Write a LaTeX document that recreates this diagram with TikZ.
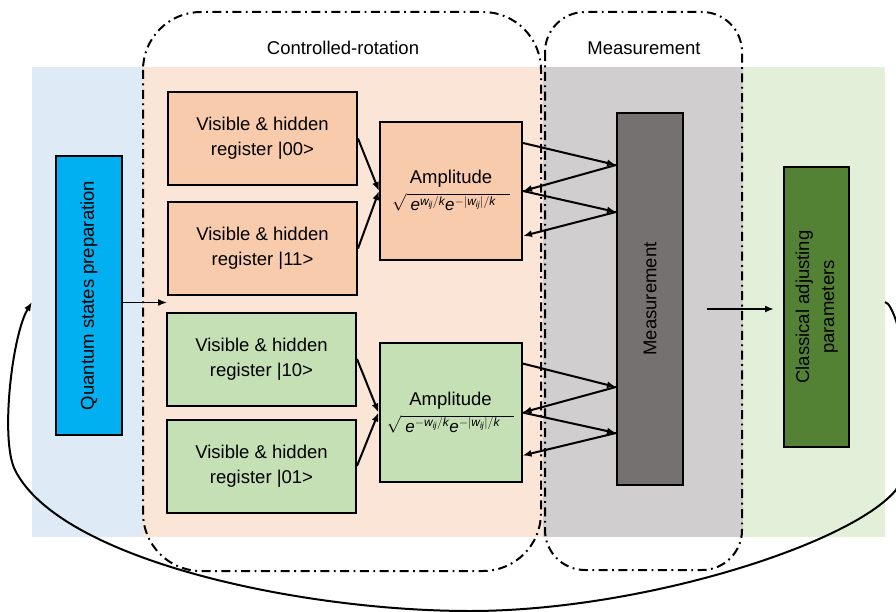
\documentclass[tikz,border=0pt]{standalone}
\usepackage{fontspec}
\setmainfont{Liberation Sans}
\usepackage{amsmath}
\usepackage{graphicx}
\usetikzlibrary{arrows.meta,calc}
\definecolor{prepblue}{RGB}{222,235,247}
\definecolor{rotorange}{RGB}{251,229,214}
\definecolor{measgray}{RGB}{208,206,206}
\definecolor{adjgreen}{RGB}{226,240,217}
\definecolor{regorange}{RGB}{248,203,173}
\definecolor{reggreen}{RGB}{197,224,180}
\definecolor{quantblue}{RGB}{0,176,240}
\definecolor{measdark}{RGB}{118,113,113}
\definecolor{adjdark}{RGB}{84,130,53}

\newcommand{\diagfont}{\fontsize{18.5}{25}\selectfont}
\newcommand{\itv}[1]{\textit{#1}}
\newcommand{\ampl}[1]{Amplitude\\[2pt]{\fontsize{17}{20}\selectfont$\sqrt{\hspace{4pt}#1\hspace{14pt}}$}}

\begin{document}
\begin{tikzpicture}[x=1pt, y=-1pt,
    region/.style={rectangle, fill=#1, inner sep=0pt, outer sep=0pt},
    register/.style={rectangle, draw=black, fill=#1, line width=2pt, minimum width=189pt, minimum height=93pt, align=center, font=\diagfont},
    ampbox/.style={rectangle, draw=black, fill=#1, line width=2pt, minimum width=142pt, minimum height=137pt, align=center, inner sep=1pt, font=\diagfont},
    tallbox/.style={rectangle, draw=black, fill=#1, line width=2pt, minimum width=66pt, inner sep=2pt, font=\diagfont},
    zone/.style={draw=black, line width=2pt, dash pattern=on 9pt off 4.5pt on 1.8pt off 4.5pt},
    arrow/.style={-{Latex[length=9pt,width=7pt]}, line width=2pt},
    title/.style={font=\diagfont}
  ]
  \useasboundingbox (0,0) rectangle (896,612);

  % Coloured backgrounds of the four stages
  \node[region=prepblue, minimum width=111pt, minimum height=470pt] (prepzone) at (87.5,302) {};
  \node[region=rotorange, minimum width=400pt, minimum height=470pt] (rotzone) at (343,302) {};
  \node[region=measgray, minimum width=200pt, minimum height=470pt] (measzone) at (643,302) {};
  \node[region=adjgreen, minimum width=142pt, minimum height=470pt] (adjzone) at (814,302) {};

  % Dash-dotted groups
  \draw[zone, rounded corners=58pt] (143,12) rectangle (541,571);
  \draw[zone, rounded corners=40pt] (545,12) rectangle (742,570);
  \node[title] (rottitle) at (343,48) {Controlled-rotation};
  \node[title] (meastitle) at (644,48) {Measurement};

  % Preparation
  \node[tallbox=quantblue, minimum height=279pt] (qsp) at (89,295.5) {\rotatebox{90}{Quantum states preparation}};

  % Registers
  \node[register=regorange] (reg00) at (262.5,138.5) {Visible \& hidden\\register |00>};
  \node[register=regorange] (reg11) at (262.5,248.5) {Visible \& hidden\\register |11>};
  \node[register=reggreen] (reg10) at (261.5,359) {Visible \& hidden\\register |10>};
  \node[register=reggreen] (reg01) at (261.5,466) {Visible \& hidden\\register |01>};

  % Amplitudes
  \node[ampbox=regorange] (ampA) at (451,191) {\ampl{\itv{e}^{\itv{w}_{\itv{ij}}/\itv{k}}\itv{e}^{-|\itv{w}_{\itv{ij}}|/\itv{k}}}};
  \node[ampbox=reggreen, minimum height=139pt] (ampB) at (450.5,412.5) {\ampl{\itv{e}^{-\itv{w}_{\itv{ij}}/\itv{k}}\itv{e}^{-|\itv{w}_{\itv{ij}}|/\itv{k}}}};

  % Measurement and classical step
  \node[tallbox=measdark, minimum height=372pt] (meas) at (650,299) {\rotatebox{90}{Measurement}};
  \node[tallbox=adjdark, minimum width=65pt, minimum height=280pt] (adjust) at (816.5,307) {\rotatebox{90}{\begin{tabular}{@{}c@{}}Classical adjusting\\parameters\end{tabular}}};

  % Connections
  \draw[arrow, line width=1.5pt] ([yshift=-7pt]qsp.east) -- ([yshift=-7pt]qsp.east -| reg11.west);
  \draw[arrow] (reg00.east) -- (ampA.west);
  \draw[arrow] (reg11.east) -- (ampA.west);
  \draw[arrow] (reg10.east) -- (ampB.west);
  \draw[arrow] (reg01.east) -- (ampB.west);

  \draw[arrow] ([yshift=48pt]ampA.east) -- ([yshift=134pt]meas.west);
  \draw[arrow] ([yshift=134pt]meas.west) -- (ampA.east);
  \draw[arrow] (ampA.east) -- ([yshift=87pt]meas.west);
  \draw[arrow] ([yshift=87pt]meas.west) -- ([yshift=-45pt]ampA.east);

  \draw[arrow] ([yshift=49pt]ampB.east) -- ([yshift=-88pt]meas.west);
  \draw[arrow] ([yshift=-88pt]meas.west) -- (ampB.east);
  \draw[arrow] (ampB.east) -- ([yshift=-134pt]meas.west);
  \draw[arrow] ([yshift=-134pt]meas.west) -- ([yshift=-43pt]ampB.east);

  \draw[arrow, shorten <=23pt, shorten >=9pt] ([yshift=-2pt]meas.east |- adjust.west) -- ([yshift=-2pt]adjust.west);

  % Feedback loop
  \begin{scope}
    \clip (0,0) rectangle (896,612);
    \draw[arrow] (adjzone.east) .. controls (900,305) and (925,430) .. (896,490)
      .. controls (850,545) and (640,611) .. (470,611)
      .. controls (300,611) and (60,560) .. (15,470)
      .. controls (0,440) and (12,335) .. (prepzone.west);
  \end{scope}
\end{tikzpicture}
\end{document}
